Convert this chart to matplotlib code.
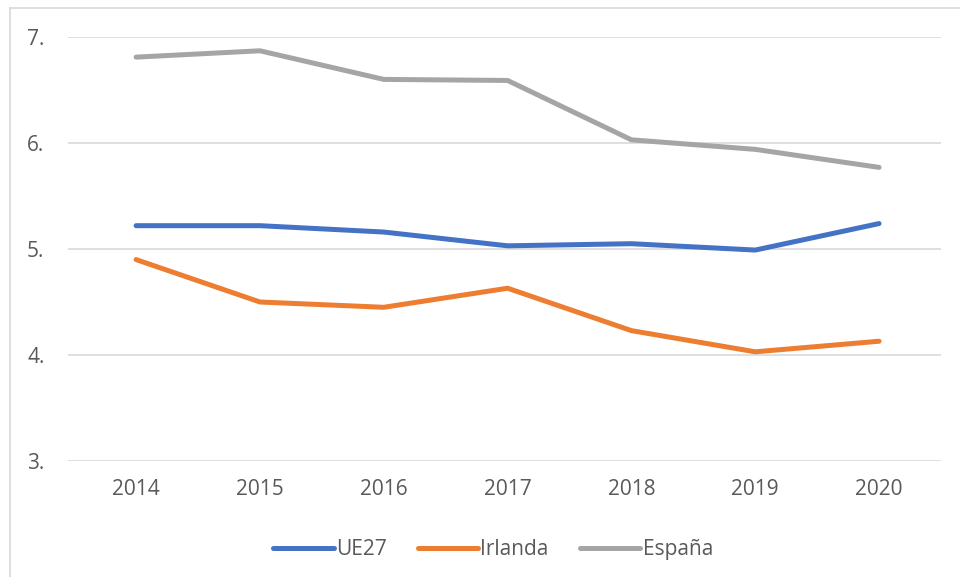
import matplotlib.pyplot as plt
from matplotlib.lines import Line2D
from matplotlib.ticker import FuncFormatter

years = ["2014", "2015", "2016", "2017", "2018", "2019", "2020"]
ue27 = [5.22, 5.22, 5.16, 5.03, 5.05, 4.99, 5.24]
irlanda = [4.90, 4.50, 4.45, 4.63, 4.23, 4.03, 4.13]
espana = [6.81, 6.87, 6.60, 6.59, 6.03, 5.94, 5.77]

plt.rcParams['font.family'] = ['Open Sans', 'DejaVu Sans']
txt = "#595959"

fig = plt.figure(figsize=(9.6, 5.77), dpi=100)
ax = fig.add_axes([68 / 960, 1 - 461 / 577, (941 - 68) / 960, (461 - 37) / 577])

x = range(len(years))
ax.plot(x, ue27, color="#4472C4", lw=3.6, solid_capstyle="round", label="UE27")
ax.plot(x, irlanda, color="#ED7D31", lw=3.6, solid_capstyle="round", label="Irlanda")
ax.plot(x, espana, color="#A5A5A5", lw=3.6, solid_capstyle="round", label="España")

ax.set_xlim(-0.55, 6.5)
ax.set_ylim(3, 7)
ax.set_yticks([3, 4, 5, 6, 7])
ax.yaxis.set_major_formatter(FuncFormatter(lambda v, p: "%d." % v))
ax.set_xticks(list(x))
ax.set_xticklabels(years)
ax.grid(axis="y", color="#D9D9D9", lw=1.2)
ax.set_axisbelow(True)
for s in ax.spines.values():
    s.set_visible(False)
ax.tick_params(length=0, labelsize=15, colors=txt)
ax.tick_params(axis="y", pad=17)
ax.tick_params(axis="x", pad=13)

leg = ax.legend(loc="upper center", bbox_to_anchor=(0.487, -0.14), ncol=3, frameon=False,
                fontsize=15, handlelength=2.9, handletextpad=0.1, columnspacing=1.5)
for t in leg.get_texts():
    t.set_color(txt)

fig.add_artist(Line2D([10 / 960, 10 / 960], [0, 1 - 8 / 577], color="#D9D9D9", lw=1.2))
fig.add_artist(Line2D([10 / 960, 1], [1 - 8 / 577, 1 - 8 / 577], color="#D9D9D9", lw=1.2))

fig.savefig("out.png", dpi=100)
